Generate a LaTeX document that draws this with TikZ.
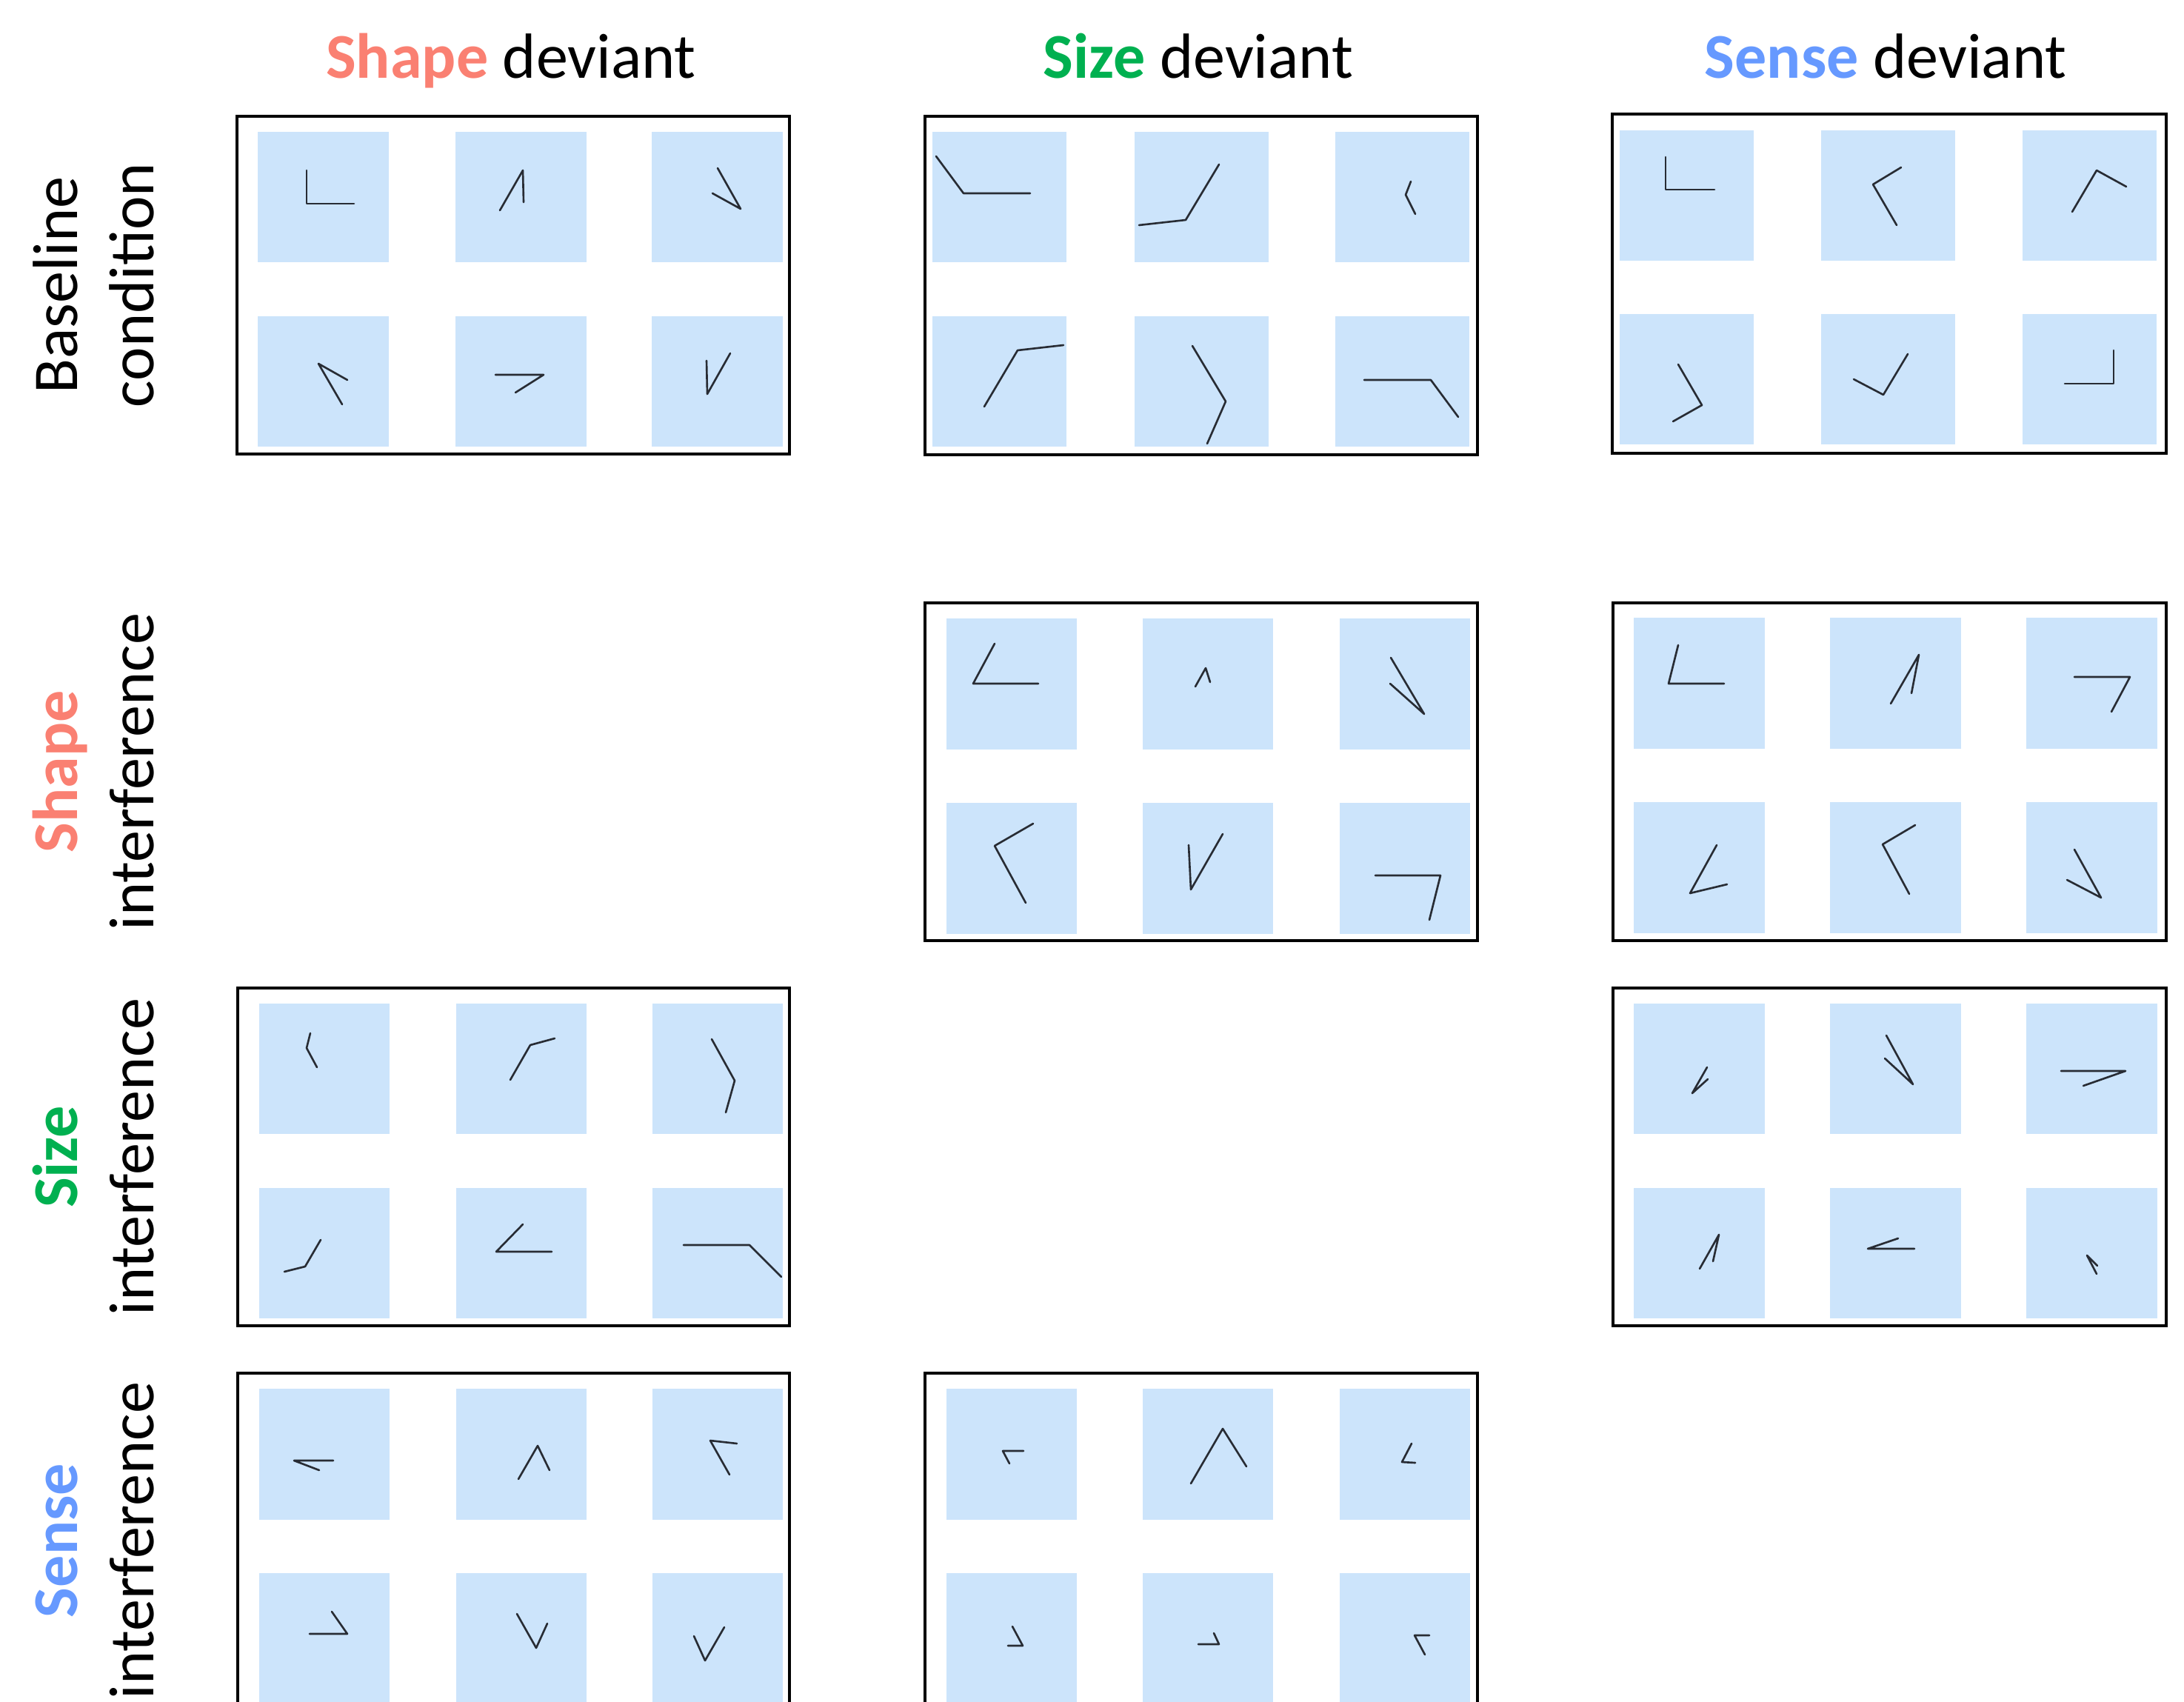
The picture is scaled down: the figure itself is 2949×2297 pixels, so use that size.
\documentclass[tikz,border=0pt]{standalone}
\usepackage{fontspec}
\setmainfont{Carlito}
\usepackage{xcolor}
\usepackage{tikz}

\definecolor{shapecol}{RGB}{250,128,114}
\definecolor{sizecol}{RGB}{0,176,80}
\definecolor{sensecol}{RGB}{102,153,255}
\definecolor{tilecol}{RGB}{204,228,251}
\definecolor{inkcol}{RGB}{40,44,52}

\begin{document}
\begin{tikzpicture}[
  x=0.01cm, y=-0.01cm,
  font=\fontsize{24.5}{29}\selectfont,
  head/.style={anchor=base,inner sep=0pt},
  rowlab/.style={anchor=base,rotate=90,inner sep=0pt},
  frame/.style={draw=black,line width=0.9pt},
  tile/.style={fill=tilecol},
  stroke/.style={draw=inkcol,line width=0.75pt,line cap=round,line join=round},
]
\useasboundingbox (0,0) rectangle (2949,2297);
\clip (0,0) rectangle (2949,2297);

% column headers
\node[head] (hshape) at (690,106) {\textcolor{shapecol}{\bfseries Shape} deviant};
\node[head] (hsize)  at (1618,106) {\textcolor{sizecol}{\bfseries Size} deviant};
\node[head] (hsense) at (2546,106) {\textcolor{sensecol}{\bfseries Sense} deviant};

% row labels
\node[rowlab] (lbase1)  at (104,385)  {Baseline};
\node[rowlab] (lbase2)  at (207,385)  {condition};
\node[rowlab] (lshape1) at (104,1042) {\textcolor{shapecol}{\bfseries Shape}};
\node[rowlab] (lshape2) at (207,1042) {interference};
\node[rowlab] (lsize1)  at (104,1562) {\textcolor{sizecol}{\bfseries Size}};
\node[rowlab] (lsize2)  at (207,1562) {interference};
\node[rowlab] (lsense1) at (104,2080) {\textcolor{sensecol}{\bfseries Sense}};
\node[rowlab] (lsense2) at (207,2080) {interference};

% panels: frame, then 3x2 tiles
\foreach \fa/\fb/\fc/\fd/\ca/\cb/\cc/\ra/\rb/\tw/\th in {
  320/157/1066/613/348/615/880/178/427/177/176,
  1249/157/1995/614/1259/1532/1803/178/427/181/176,
  2177/154/2925/612/2187/2459/2731/176/424/181/176,
  1249/814/1995/1270/1278/1543/1809/835/1084/176/177,
  2178/814/2925/1270/2206/2471/2736/834/1083/177/177,
  321/1334/1066/1790/350/616/881/1355/1604/176/176,
  2178/1334/2925/1790/2206/2471/2736/1355/1604/177/176,
  321/1854/1066/2310/350/616/881/1875/2124/176/177,
  1249/1854/1995/2310/1278/1543/1809/1875/2124/176/177}
{
  \draw[frame] (\fa,\fb) rectangle (\fc,\fd);
  \foreach \cx in {\ca,\cb,\cc}
    \foreach \ry in {\ra,\rb}
      \fill[tile] (\cx,\ry) rectangle ++(\tw,\th);
}

% baseline, shape deviant
\draw[stroke] (414,230) -- (414,275) -- (478,275);
\draw[stroke] (675,284) -- (706,230) -- (707,273);
\draw[stroke] (969,227) -- (1000,282) -- (962,261);
\draw[stroke] (462,546) -- (430,491) -- (469,513);
\draw[stroke] (669,506) -- (734,506) -- (696,530);
\draw[stroke] (954,487) -- (955,532) -- (986,477);

% baseline, size deviant
\draw[stroke] (1264,211) -- (1301,261) -- (1391,261);
\draw[stroke] (1646,222) -- (1601,297) -- (1538,304);
\draw[stroke] (1905,245) -- (1898,263) -- (1911,289);
\draw[stroke] (1329,549) -- (1374,473) -- (1436,466);
\draw[stroke] (1610,467) -- (1655,542) -- (1630,599);
\draw[stroke] (1842,513) -- (1932,513) -- (1969,563);

% baseline, sense deviant
\draw[stroke] (2249,212) -- (2249,256) -- (2315,256);
\draw[stroke] (2567,226) -- (2529,249) -- (2561,304);
\draw[stroke] (2798,286) -- (2831,230) -- (2871,252);
\draw[stroke] (2266,492) -- (2298,547) -- (2259,569);
\draw[stroke] (2503,512) -- (2543,533) -- (2576,478);
\draw[stroke] (2854,473) -- (2854,518) -- (2788,518);

% shape interference, size deviant
\draw[stroke] (1343,869) -- (1314,923) -- (1402,923);
\draw[stroke] (1614,927) -- (1628,902) -- (1634,921);
\draw[stroke] (1878,888) -- (1923,964) -- (1877,923);
\draw[stroke] (1395,1112) -- (1343,1142) -- (1385,1219);
\draw[stroke] (1605,1141) -- (1608,1201) -- (1651,1126);
\draw[stroke] (1857,1182) -- (1945,1182) -- (1930,1242);

% shape interference, sense deviant
\draw[stroke] (2266,871) -- (2253,923) -- (2328,923);
\draw[stroke] (2553,950) -- (2591,884) -- (2581,936);
\draw[stroke] (2801,914) -- (2876,914) -- (2851,961);
\draw[stroke] (2318,1141) -- (2282,1206) -- (2332,1194);
\draw[stroke] (2586,1114) -- (2542,1140) -- (2578,1207);
\draw[stroke] (2801,1147) -- (2837,1212) -- (2791,1188);

% size interference, shape deviant
\draw[stroke] (419,1395) -- (414,1415) -- (428,1441);
\draw[stroke] (689,1458) -- (716,1411) -- (749,1402);
\draw[stroke] (961,1403) -- (992,1459) -- (980,1502);
\draw[stroke] (433,1674) -- (412,1710) -- (384,1717);
\draw[stroke] (706,1653) -- (670,1690) -- (745,1690);
\draw[stroke] (923,1681) -- (1012,1681) -- (1055,1724);

% size interference, sense deviant
\draw[stroke] (2305,1441) -- (2285,1476) -- (2306,1457);
\draw[stroke] (2547,1398) -- (2583,1464) -- (2545,1429);
\draw[stroke] (2783,1446) -- (2870,1446) -- (2813,1466);
\draw[stroke] (2295,1713) -- (2321,1667) -- (2313,1703);
\draw[stroke] (2563,1672) -- (2522,1686) -- (2585,1686);
\draw[stroke] (2831,1720) -- (2818,1695) -- (2832,1709);

% sense interference, shape deviant
\draw[stroke] (431,1985) -- (397,1972) -- (450,1972);
\draw[stroke] (700,1997) -- (726,1952) -- (742,1985);
\draw[stroke] (995,1949) -- (959,1945) -- (985,1991);
\draw[stroke] (418,2206) -- (469,2206) -- (448,2176);
\draw[stroke] (698,2179) -- (724,2225) -- (739,2192);
\draw[stroke] (937,2209) -- (952,2242) -- (978,2197);

% sense interference, size deviant
\draw[stroke] (1382,1959) -- (1354,1959) -- (1363,1976);
\draw[stroke] (1608,2003) -- (1651,1929) -- (1683,1980);
\draw[stroke] (1906,1949) -- (1893,1974) -- (1911,1975);
\draw[stroke] (1367,2196) -- (1381,2222) -- (1361,2222);
\draw[stroke] (1639,2205) -- (1646,2220) -- (1618,2220);
\draw[stroke] (1930,2208) -- (1910,2208) -- (1924,2234);
\end{tikzpicture}
\end{document}
